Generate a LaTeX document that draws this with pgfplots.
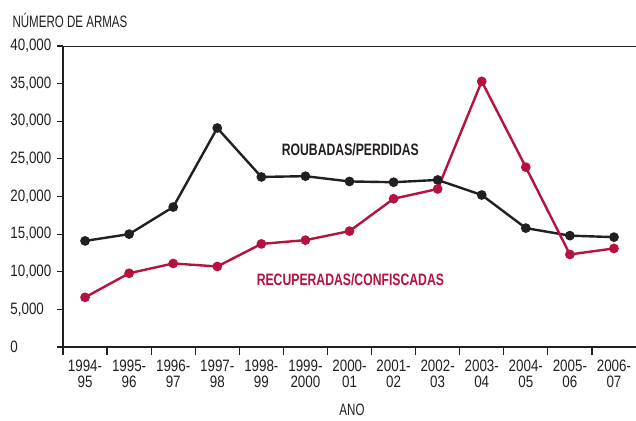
\documentclass[border=0pt]{standalone}
\usepackage{pgfplots}
\pgfplotsset{compat=1.18}
\usepackage{fontspec}
\setmainfont{Liberation Sans}[FakeStretch=0.7]
\newfontfamily\numfont{Liberation Sans}[FakeStretch=0.81]
\newfontfamily\serfont{Liberation Sans}[FakeStretch=0.74]
\definecolor{blk}{HTML}{231F20}
\definecolor{crim}{HTML}{B5123F}
\newcommand\lbl{\fontsize{16.5}{16}\selectfont}
\begin{document}
\begin{tikzpicture}
\begin{axis}[
  at={(0,0)}, anchor=south west,
  scale only axis, width=573pt, height=301pt,
  xmin=-0.5, xmax=12.5, ymin=0, ymax=40000,
  axis x line*=bottom, axis y line*=left,
  axis line style={blk, line width=1.2pt},
  xtick={0,...,12},
  xticklabels={{1994-\\95},{1995-\\96},{1996-\\97},{1997-\\98},{1998-\\99},{1999-\\2000},{2000-\\01},{2001-\\02},{2002-\\03},{2003-\\04},{2004-\\05},{2005-\\06},{2006-\\07}},
  xticklabel style={align=center, font=\numfont\lbl, text=blk, yshift=-3pt},
  major x tick style={draw=none},
  minor xtick={-0.5,0.5,...,11.5},
  minor x tick style={blk, line width=1.2pt},
  minor tick length=8pt,
  ytick={0,5000,...,40000},
  scaled y ticks=false,
  yticklabel style={font=\numfont\lbl, text=blk, text width=43pt, align=left},
  y tick style={blk, line width=1.2pt},
  major tick length=6pt,
  tick align=outside,
  /pgf/number format/.cd, 1000 sep={,}, assume math mode=true,
]
\draw[blk, line width=1.2pt] (rel axis cs:0,1) -- (rel axis cs:1,1);
\addplot[blk, line width=2.4pt, mark=*, mark size=3.6pt, mark options={fill=blk, draw=blk}] coordinates {
(0,14100) (1,15000) (2,18600) (3,29100) (4,22600) (5,22700) (6,22000) (7,21900) (8,22200) (9,20200) (10,15800) (11,14800) (12,14600)};
\addplot[crim, line width=2.4pt, mark=*, mark size=3.6pt, mark options={fill=crim, draw=crim}] coordinates {
(0,6600) (1,9800) (2,11100) (3,10700) (4,13700) (5,14200) (6,15400) (7,19700) (8,21000) (9,35300) (10,23900) (11,12300) (12,13100)};
\node[text=blk, font=\serfont\lbl\bfseries] at (axis cs:6.02,26200) {ROUBADAS/PERDIDAS};
\node[text=crim, font=\serfont\lbl\bfseries] at (axis cs:6.02,9000) {RECUPERADAS/CONFISCADAS};
\end{axis}
\node[anchor=west, text=blk, font=\lbl] at (-54pt,327pt) {NÚMERO DE ARMAS};
\node[text=blk, font=\lbl] at (289pt,-63pt) {ANO};
\pgfresetboundingbox
\path[use as bounding box] (-63pt,-73pt) rectangle (573pt,347pt);
\end{tikzpicture}
\end{document}
